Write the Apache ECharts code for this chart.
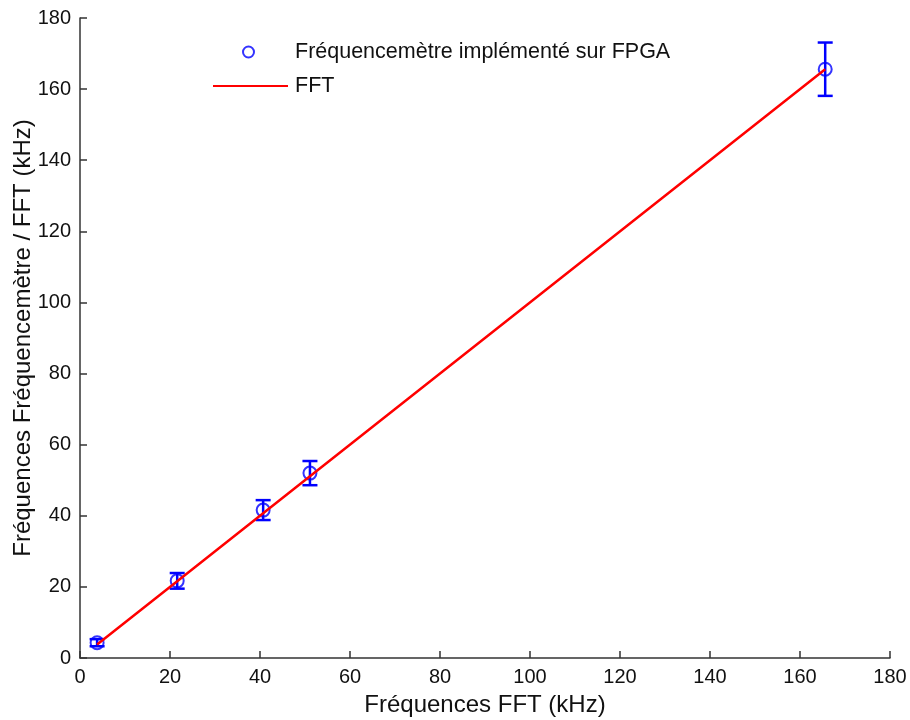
<!DOCTYPE html>
<html><head><meta charset="utf-8">
<script src="https://cdn.jsdelivr.net/npm/echarts@6/dist/echarts.min.js"></script>
<style>html,body{margin:0;padding:0;background:#fff}#c{width:910px;height:720px}</style>
</head><body><div id="c"></div>
<script>
const fftFreq = [3.8, 21.6, 40.7, 51.1, 165.6];
const fpgaFreq = [4.3, 21.7, 41.6, 52.0, 165.6];
const fpgaErr = [1.0, 2.2, 2.8, 3.4, 7.5];
const xTicks = [0, 20, 40, 60, 80, 100, 120, 140, 160, 180];
const yTicks = [0, 20, 40, 60, 80, 100, 120, 140, 160, 180];

const FONT = 'Liberation Sans, Arial, sans-serif';
const chart = echarts.init(document.getElementById('c'));
const errData = fftFreq.map((x, i) => [x, fpgaFreq[i] - fpgaErr[i], fpgaFreq[i] + fpgaErr[i]]);
const axisCommon = {
  min: xTicks[0], max: xTicks[xTicks.length - 1], interval: 20,
  axisLine: {show: true, lineStyle: {color: '#333', width: 1.5}},
  axisTick: {show: true, inside: true, length: 7, lineStyle: {color: '#333', width: 1.5}},
  splitLine: {show: false},
  axisLabel: {color: '#111', fontSize: 20, fontFamily: FONT, margin: 9},
  nameLocation: 'middle',
  nameMoveOverlap: false,
  nameTextStyle: {color: '#111', fontSize: 24, fontFamily: FONT}
};
chart.setOption({
  animation: false,
  backgroundColor: '#fff',
  grid: {left: 80, right: 20, top: 18, bottom: 62, containLabel: false, outerBoundsMode: 'none'},
  legend: [{
    data: ['Fréquencemètre implémenté sur FPGA'],
    left: 237, top: 36, itemWidth: 75, itemHeight: 11, itemGap: 10,
    textStyle: {fontSize: 21.5, fontFamily: FONT, color: '#111', padding: [0, 0, 0, 4]}
  }, {
    data: [{name: 'FFT', icon: 'rect'}],
    left: 208, top: 70, itemWidth: 75, itemHeight: 2, itemGap: 10,
    textStyle: {fontSize: 21.5, fontFamily: FONT, color: '#111', padding: [0, 0, 0, 2]}
  }],
  xAxis: Object.assign({}, axisCommon, {
    type: 'value', name: 'Fréquences FFT (kHz)', nameGap: 35
  }),
  yAxis: Object.assign({}, axisCommon, {
    type: 'value', name: 'Fréquences Fréquencemètre / FFT (kHz)', nameGap: 45,
    min: yTicks[0], max: yTicks[yTicks.length - 1]
  }),
  series: [{
    name: 'FFT', type: 'line', data: fftFreq.map(x => [x, x]),
    showSymbol: false, symbol: 'none',
    lineStyle: {color: '#ff0000', width: 2.5}, itemStyle: {color: '#ff0000'}, z: 6
  }, {
    name: 'Fréquencemètre implémenté sur FPGA', type: 'scatter',
    data: fftFreq.map((x, i) => [x, fpgaFreq[i]]),
    symbol: 'emptyCircle', symbolSize: 13,
    itemStyle: {color: '#0000ff', borderWidth: 2},
    z: 4
  }, {
    name: 'err', type: 'custom', data: errData, z: 5,
    renderItem: function (params, api) {
      const x = api.value(0);
      const lo = api.coord([x, api.value(1)]);
      const hi = api.coord([x, api.value(2)]);
      const w = 7.5;
      const st = {stroke: '#0000ff', lineWidth: 2.5, fill: null};
      return {type: 'group', children: [
        {type: 'line', shape: {x1: lo[0], y1: lo[1], x2: hi[0], y2: hi[1]}, style: st},
        {type: 'line', shape: {x1: lo[0] - w, y1: lo[1], x2: lo[0] + w, y2: lo[1]}, style: st},
        {type: 'line', shape: {x1: hi[0] - w, y1: hi[1], x2: hi[0] + w, y2: hi[1]}, style: st}
      ]};
    }
  }]
});
</script></body></html>
